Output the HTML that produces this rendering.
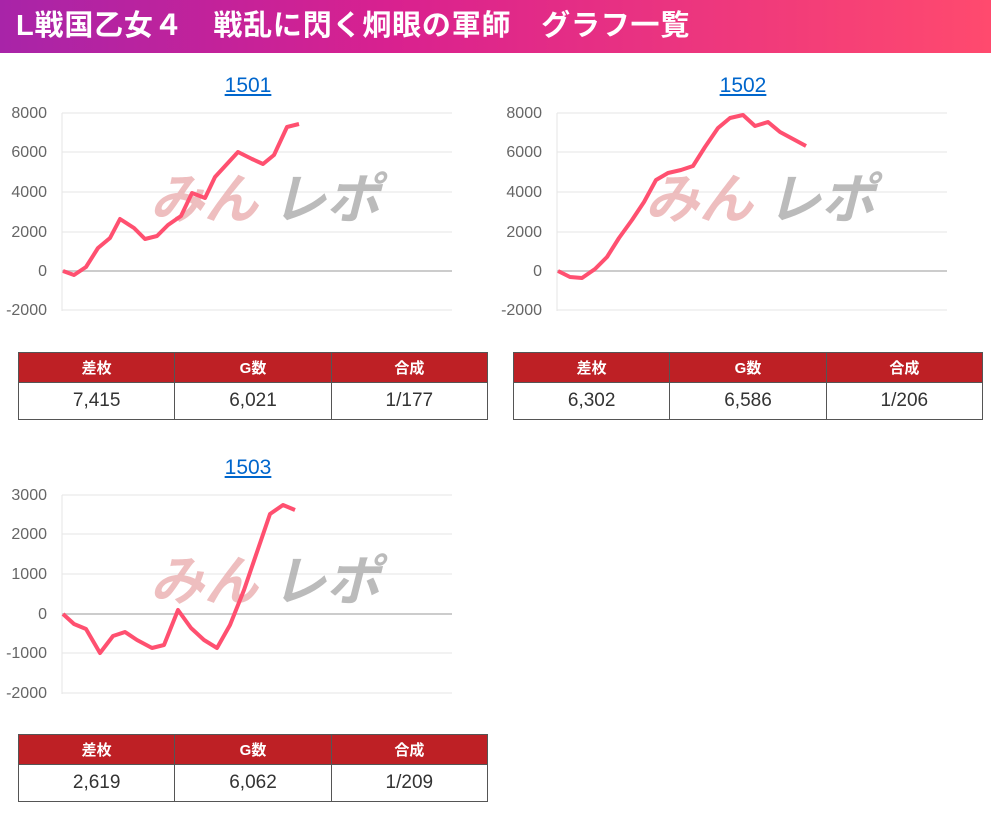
<!DOCTYPE html>
<html><head><meta charset="utf-8"><style>
body{margin:0;width:1003px;height:813px;background:#fff;position:relative;overflow:hidden;font-family:"Liberation Sans","Noto Sans CJK JP",sans-serif}
.hd{position:absolute;left:0;top:0;width:991px;height:53px;background:linear-gradient(to right,#a824a8,#d9218f 40%,#ff4a6e);color:#fff;font-weight:bold;font-size:29px;letter-spacing:0.8px;line-height:53px;padding-left:16px;box-sizing:border-box;white-space:pre}
table{position:absolute;border-collapse:collapse;width:470px;font-size:19px;color:#333}
th{background:#be2025;color:#fff;font-size:15px;height:29px;padding:0;border:1px solid #555;font-weight:bold}
td{height:36px;padding:0;border:1px solid #555;text-align:center;width:33%}
.lk{position:absolute;color:#0066cc;text-decoration:underline;font-size:21px;width:100px;text-align:center}
</style></head><body>
<div class="hd">L戦国乙女４　戦乱に閃く炯眼の軍師　グラフ一覧</div>
<div class="lk" style="left:198px;top:74px">1501</div>
<div class="lk" style="left:693px;top:74px">1502</div>
<div class="lk" style="left:198px;top:456px">1503</div>
<svg width="1003" height="813" style="position:absolute;left:0;top:0" font-family="Liberation Sans, sans-serif" font-size="16" fill="#666">
<defs><g id="wm"><text x="0" y="0" font-size="54" font-weight="bold" font-style="italic" fill="#e8a8aa" fill-opacity="0.75" font-family="Noto Sans CJK JP, sans-serif">みん</text><text x="122" y="0" font-size="54" font-weight="bold" font-style="italic" fill="#aaa" fill-opacity="0.8" font-family="Noto Sans CJK JP, sans-serif">レポ</text></g></defs>
<g stroke="#e6e6e6" stroke-width="1">
<line x1="62" y1="113" x2="452" y2="113"/><line x1="62" y1="152" x2="452" y2="152"/><line x1="62" y1="192" x2="452" y2="192"/><line x1="62" y1="232" x2="452" y2="232"/><line x1="62" y1="310" x2="452" y2="310"/><line x1="62" y1="113" x2="62" y2="311"/>
<line x1="557" y1="113" x2="947" y2="113"/><line x1="557" y1="152" x2="947" y2="152"/><line x1="557" y1="192" x2="947" y2="192"/><line x1="557" y1="232" x2="947" y2="232"/><line x1="557" y1="310" x2="947" y2="310"/><line x1="557" y1="113" x2="557" y2="311"/>
<line x1="62" y1="495" x2="452" y2="495"/><line x1="62" y1="534" x2="452" y2="534"/><line x1="62" y1="574" x2="452" y2="574"/><line x1="62" y1="653" x2="452" y2="653"/><line x1="62" y1="693" x2="452" y2="693"/><line x1="62" y1="495" x2="62" y2="694"/>
</g>
<g stroke="#ccc" stroke-width="2"><line x1="62" y1="271" x2="452" y2="271"/><line x1="557" y1="271" x2="947" y2="271"/><line x1="62" y1="614" x2="452" y2="614"/></g>
<g text-anchor="end">
<text x="47" y="118">8000</text><text x="47" y="157">6000</text><text x="47" y="197">4000</text><text x="47" y="237">2000</text><text x="47" y="276">0</text><text x="47" y="315">-2000</text>
<text x="542" y="118">8000</text><text x="542" y="157">6000</text><text x="542" y="197">4000</text><text x="542" y="237">2000</text><text x="542" y="276">0</text><text x="542" y="315">-2000</text>
<text x="47" y="500">3000</text><text x="47" y="539">2000</text><text x="47" y="579">1000</text><text x="47" y="619">0</text><text x="47" y="658">-1000</text><text x="47" y="698">-2000</text>
</g>
<use href="#wm" x="150" y="218"/><use href="#wm" x="645" y="218"/><use href="#wm" x="150" y="600"/>
<g fill="none" stroke="#ff5070" stroke-width="4" stroke-linejoin="round">
<polyline points="63,271 74,275 86,267 98,248 110,238 120,219 134,228 145,239 157,236 168,225 181,216 192,193 205,198 215,177 238,152 252,159 263,164 274,155 287,127 299,124"/>
<polyline points="558,271 570,277 582,278 595,269 607,257 619,238 632,220 644,202 656,180 668,173 681,170 693,166 705,147 718,128 730,118 743,115 755,126 768,122 780,132 793,139 806,146"/>
<polyline points="63,614 74,624 86,629 100,653 113,636 125,632 137,640 152,648 164,645 178,610 191,628 204,640 217,648 230,625 244,590 257,552 270,514 283,505 295,510"/>
</g>
</svg>
<table style="left:18px;top:352px"><tr><th>差枚</th><th>G数</th><th>合成</th></tr><tr><td>7,415</td><td>6,021</td><td>1/177</td></tr></table>
<table style="left:513px;top:352px"><tr><th>差枚</th><th>G数</th><th>合成</th></tr><tr><td>6,302</td><td>6,586</td><td>1/206</td></tr></table>
<table style="left:18px;top:734px"><tr><th>差枚</th><th>G数</th><th>合成</th></tr><tr><td>2,619</td><td>6,062</td><td>1/209</td></tr></table>
</body></html>
